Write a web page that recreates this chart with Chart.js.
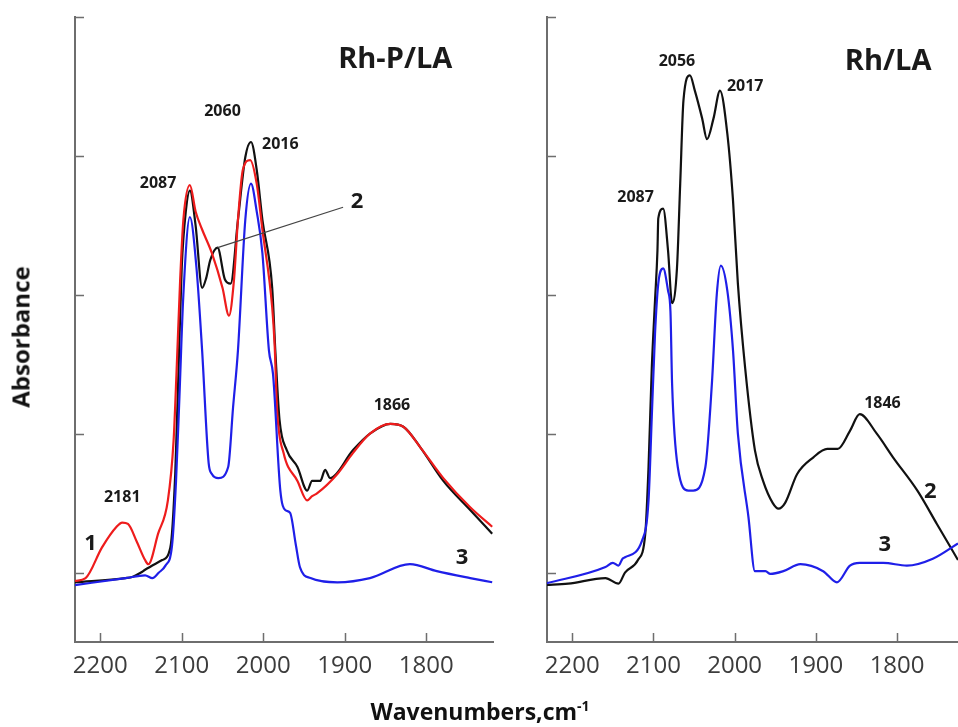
<!DOCTYPE html>
<html>
<head>
<meta charset="utf-8">
<script src="https://cdn.jsdelivr.net/npm/chart.js@4.4.1/dist/chart.umd.min.js"></script>
<style>
  body { margin: 0; background: #fff; width: 958px; height: 727px; overflow: hidden; position: relative; font-family: "Open Sans", sans-serif; }
  canvas { position: absolute; top: 0; }
  #left { left: 0; }
  #right { left: 500px; }
  .ytitle { position: absolute; left: 20px; top: 337px; transform: translate(-50%, -50%) rotate(-90deg); font-weight: bold; font-size: 24px; color: #111; white-space: nowrap; }
  .xtitle { position: absolute; left: 480px; top: 711px; transform: translate(-50%, -50%); font-weight: bold; font-size: 23px; color: #111; white-space: nowrap; }
  .xtitle sup { font-size: 14px; }
</style>
</head>
<body>
<canvas id="left" width="500" height="727"></canvas>
<canvas id="right" width="458" height="727"></canvas>
<div class="ytitle">Absorbance</div>
<div class="xtitle">Wavenumbers,cm<sup>-1</sup></div>
<script>
// tick values (no labels on the y axis)
const xTicks = [2200, 2100, 2000, 1900, 1800];
const yTicks = [0, 1, 2, 3, 4];

// Rh-P/LA panel
const rhpWave1 = [2231, 2218, 2198, 2180, 2173, 2166, 2155, 2145, 2141, 2129, 2117, 2110, 2106, 2102, 2098, 2090, 2083, 2075, 2063, 2050, 2042, 2036, 2031, 2025, 2016, 2008, 2001, 1989, 1986, 1983, 1975, 1958, 1946, 1940, 1934, 1909, 1890, 1869, 1844, 1828, 1807, 1779, 1746, 1719];
const rhpAbs1 = [-0.06, -0.04, 0.18, 0.33, 0.36, 0.35, 0.22, 0.09, 0.06, 0.28, 0.52, 0.95, 1.5, 2.1, 2.54, 2.79, 2.6, 2.47, 2.30, 2.05, 1.85, 2.1, 2.54, 2.90, 2.97, 2.8, 2.47, 1.91, 1.64, 1.17, 0.86, 0.66, 0.52, 0.55, 0.57, 0.71, 0.86, 1.00, 1.07, 1.05, 0.90, 0.68, 0.47, 0.33];

const rhpWave2 = [2231, 2169, 2160, 2150, 2145, 2124, 2114, 2108, 2104, 2100, 2095, 2090, 2083, 2075, 2070, 2065, 2056, 2047, 2040, 2031, 2022, 2015, 2008, 2001, 1989, 1985, 1980, 1971, 1958, 1946, 1940, 1930, 1924, 1918, 1890, 1869, 1844, 1828, 1807, 1779, 1746, 1719];
const rhpAbs2 = [-0.07, -0.04, -0.03, 0.0, 0.02, 0.09, 0.18, 0.71, 1.45, 2.2, 2.6, 2.75, 2.5, 2.05, 2.12, 2.25, 2.34, 2.11, 2.08, 2.54, 2.99, 3.10, 2.9, 2.54, 2.05, 1.58, 1.1, 0.88, 0.76, 0.59, 0.66, 0.66, 0.74, 0.68, 0.88, 1.00, 1.07, 1.05, 0.90, 0.66, 0.45, 0.28];

const rhpWave3 = [2231, 2169, 2145, 2136, 2128, 2120, 2112, 2107, 2103, 2098, 2090, 2082, 2075, 2067, 2063, 2055, 2043, 2037, 2031, 2022, 2015, 2008, 2001, 1993, 1988, 1979, 1973, 1967, 1960, 1955, 1942, 1909, 1869, 1820, 1787, 1746, 1719];
const rhpAbs3 = [-0.09, -0.04, -0.02, -0.04, 0.0, 0.05, 0.19, 0.66, 1.24, 2.0, 2.56, 2.2, 1.6, 0.79, 0.71, 0.68, 0.76, 1.19, 1.60, 2.54, 2.80, 2.6, 2.30, 1.6, 1.43, 0.59, 0.45, 0.43, 0.2, 0.04, -0.04, -0.07, -0.04, 0.06, 0.01, -0.04, -0.07];

// Rh/LA panel
const rhWave2 = [2233, 2205, 2159, 2143, 2135, 2119, 2110, 2106, 2102, 2098, 2095, 2094, 2088, 2082, 2077, 2071, 2067, 2063, 2055, 2049, 2040, 2034, 2026, 2018, 2009, 2002, 1996, 1987, 1975, 1965, 1953, 1946, 1938, 1923, 1903, 1886, 1873, 1858, 1846, 1825, 1805, 1775, 1751, 1725];
const rhAbs2 = [-0.09, -0.08, -0.04, -0.08, 0.0, 0.09, 0.28, 0.76, 1.47, 1.96, 2.32, 2.55, 2.62, 2.32, 1.94, 2.19, 2.80, 3.40, 3.58, 3.47, 3.27, 3.12, 3.27, 3.47, 3.16, 2.68, 2.08, 1.47, 0.88, 0.66, 0.50, 0.46, 0.50, 0.71, 0.83, 0.89, 0.89, 1.02, 1.14, 1.00, 0.83, 0.59, 0.35, 0.09];

const rhWave3 = [2233, 2159, 2150, 2143, 2138, 2135, 2114, 2106, 2102, 2098, 2094, 2088, 2082, 2079, 2077, 2070, 2057, 2051, 2036, 2028, 2022, 2017, 2009, 2002, 1996, 1983, 1975, 1962, 1956, 1940, 1919, 1891, 1874, 1858, 1846, 1817, 1788, 1756, 1725];
const rhAbs3 = [-0.08, 0.04, 0.07, 0.05, 0.10, 0.11, 0.23, 0.52, 1.12, 1.72, 2.08, 2.19, 2.03, 1.88, 1.36, 0.76, 0.59, 0.59, 0.76, 1.36, 2.0, 2.21, 2.03, 1.6, 1.0, 0.40, 0.01, 0.01, -0.01, 0.01, 0.06, 0.01, -0.07, 0.05, 0.07, 0.07, 0.05, 0.10, 0.21];

const BLACK = '#111111', RED = '#ee1c1c', BLUE = '#1f1fe8';

function pts(w, a) { return w.map((v, i) => ({ x: v, y: a[i] })); }
function line(data, color) {
  return { data, borderColor: color, borderWidth: 2.2, pointRadius: 0, cubicInterpolationMode: 'monotone', fill: false };
}

// inward tick marks, peak labels and the leader line
const panelDecor = {
  id: 'panelDecor',
  afterDatasetsDraw(chart, args, opts) {
    const { ctx, chartArea, scales: { x, y } } = chart;
    ctx.save();
    ctx.strokeStyle = '#6e6e6e';
    ctx.lineWidth = 1.5;
    ctx.beginPath();
    yTicks.forEach(v => {
      const py = Math.round(y.getPixelForValue(v)) + 0.5;
      ctx.moveTo(chartArea.left, py); ctx.lineTo(chartArea.left + 9, py);
    });
    xTicks.forEach(v => {
      const px = Math.round(x.getPixelForValue(v)) + 0.5;
      ctx.moveTo(px, chartArea.bottom); ctx.lineTo(px, chartArea.bottom - 9);
    });
    ctx.stroke();
    (opts.leaders || []).forEach(l => {
      ctx.strokeStyle = '#444';
      ctx.lineWidth = 1.2;
      ctx.beginPath();
      ctx.moveTo(x.getPixelForValue(l[0]), y.getPixelForValue(l[1]));
      ctx.lineTo(x.getPixelForValue(l[2]), y.getPixelForValue(l[3]));
      ctx.stroke();
    });
    ctx.textAlign = 'center';
    ctx.textBaseline = 'middle';
    ctx.fillStyle = '#1a1a1a';
    (opts.labels || []).forEach(l => {
      ctx.font = l.font;
      ctx.fillText(l.text, x.getPixelForValue(l.wn), y.getPixelForValue(l.abs));
    });
    ctx.restore();
  }
};

const PEAK = 'bold 16px "Open Sans"';
const NUM = 'bold 22px "Open Sans"';
const TITLE = 'bold 29px "Open Sans"';

function makeChart(id, datasets, xMin, yWidth, padRight, labels, leaders) {
  return new Chart(document.getElementById(id).getContext('2d'), {
    type: 'line',
    data: { datasets },
    options: {
      responsive: false,
      animation: false,
      layout: { padding: { top: 17, right: padRight, left: 0, bottom: 0 } },
      plugins: {
        legend: { display: false },
        tooltip: { enabled: false },
        panelDecor: { labels, leaders }
      },
      scales: {
        x: {
          type: 'linear', reverse: true, min: xMin, max: 2231,
          afterBuildTicks: s => { s.ticks = xTicks.map(v => ({ value: v })); },
          afterFit: s => { s.height = 85; },
          grid: { display: false, drawTicks: false },
          border: { display: true, color: '#6e6e6e', width: 2 },
          ticks: { color: '#3c3c3c', font: { family: 'Open Sans', size: 24 }, padding: 10, maxRotation: 0, callback: v => String(v) }
        },
        y: {
          type: 'linear', min: -0.5, max: 4,
          afterBuildTicks: s => { s.ticks = yTicks.map(v => ({ value: v })); },
          afterFit: s => { s.width = yWidth; },
          grid: { display: false, drawTicks: false },
          border: { display: true, color: '#6e6e6e', width: 2 },
          ticks: { display: false }
        }
      }
    },
    plugins: [panelDecor]
  });
}

makeChart('left', [
  line(pts(rhpWave3, rhpAbs3), BLUE),
  line(pts(rhpWave1, rhpAbs1), RED),
  line(pts(rhpWave2, rhpAbs2), BLACK)
], 1718, 75, 7, [
  { text: 'Rh-P/LA', wn: 1838, abs: 3.69, font: TITLE },
  { text: '2060', wn: 2050, abs: 3.32, font: PEAK },
  { text: '2016', wn: 1979, abs: 3.08, font: PEAK },
  { text: '2087', wn: 2129, abs: 2.80, font: PEAK },
  { text: '2181', wn: 2173, abs: 0.54, font: PEAK },
  { text: '1866', wn: 1842, abs: 1.20, font: PEAK },
  { text: '2', wn: 1885, abs: 2.67, font: NUM },
  { text: '1', wn: 2212, abs: 0.21, font: NUM },
  { text: '3', wn: 1756, abs: 0.11, font: NUM }
], [[2056, 2.34, 1902, 2.63]]);

makeChart('right', [
  line(pts(rhWave3, rhAbs3), BLUE),
  line(pts(rhWave2, rhAbs2), BLACK)
], 1725, 47, 0, [
  { text: 'Rh/LA', wn: 1811, abs: 3.68, font: TITLE },
  { text: '2056', wn: 2071, abs: 3.68, font: PEAK },
  { text: '2017', wn: 1987, abs: 3.50, font: PEAK },
  { text: '2087', wn: 2122, abs: 2.70, font: PEAK },
  { text: '1846', wn: 1818, abs: 1.22, font: PEAK },
  { text: '2', wn: 1759, abs: 0.58, font: NUM },
  { text: '3', wn: 1815, abs: 0.20, font: NUM }
], []);
</script>
</body>
</html>
